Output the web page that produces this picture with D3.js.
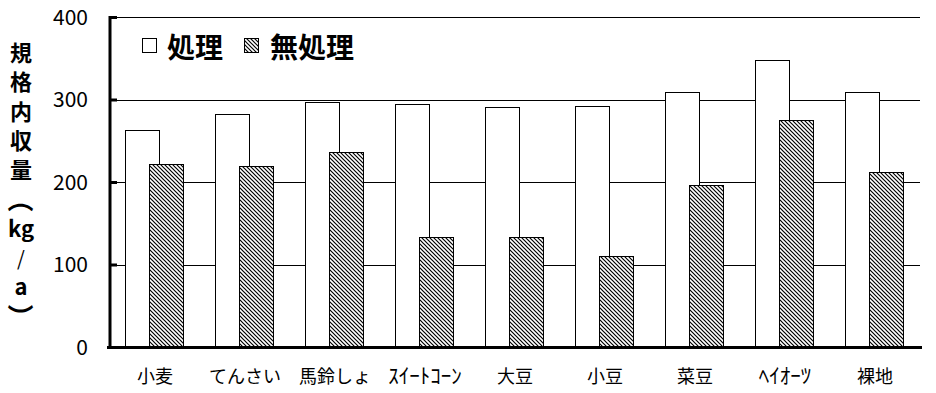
<!DOCTYPE html>
<html>
<head>
<meta charset="utf-8">
<script src="https://cdn.jsdelivr.net/npm/d3@7"></script>
<style>
  body { margin: 0; background: #fff; }
  text { font-family: "Noto Sans CJK JP", sans-serif; fill: #000; }
</style>
</head>
<body>
<div class="graph"></div>
<script>
let crops = ["小麦", "てんさい", "馬鈴しょ", "ｽｲｰﾄｺｰﾝ", "大豆", "小豆", "菜豆", "ﾍｲｵｰﾂ", "裸地"];
let treated = [263, 283, 297, 294, 291, 292, 309, 348, 309];
let untreated = [222, 219, 236, 133, 133, 110, 196, 275, 212];
let yTicks = [0, 100, 200, 300, 400];
let seriesNames = ["処理", "無処理"];
let yTitle = ["規", "格", "内", "収", "量", "（", "kg", "/", "a", "）"];

let w = 936;
let h = 393;
let plotLeft = 110, plotRight = 920, plotTop = 17, plotBottom = 347;

let svg = d3
  .select(".graph")
  .append("svg")
  .attr("width", w)
  .attr("height", h);

let defs = svg.append("defs");
let pat = defs
  .append("pattern")
  .attr("id", "hatch")
  .attr("patternUnits", "userSpaceOnUse")
  .attr("width", 4)
  .attr("height", 4);
pat.append("rect").attr("width", 4).attr("height", 4).attr("fill", "#fff");
pat
  .append("path")
  .attr("d", "M-1,-1 L5,5 M-1,3 L1,5 M3,-1 L5,1")
  .attr("stroke", "#000")
  .attr("stroke-width", 1.2);

let xScale = d3.scaleBand().domain(crops).range([plotLeft, plotRight]).padding(0);
let yScale = d3.scaleLinear().domain([0, 400]).range([plotBottom, plotTop]);

// gridlines
svg
  .selectAll("line.grid")
  .data(yTicks.filter((d) => d > 0))
  .enter()
  .append("line")
  .attr("class", "grid")
  .attr("x1", plotLeft)
  .attr("x2", plotRight)
  .attr("y1", (d) => Math.round(yScale(d)) + 0.5)
  .attr("y2", (d) => Math.round(yScale(d)) + 0.5)
  .attr("stroke", "#000")
  .attr("stroke-width", 1);

// bars
let groups = svg
  .selectAll("g.cat")
  .data(crops)
  .enter()
  .append("g")
  .attr("class", "cat");

groups
  .append("rect")
  .attr("x", (d) => Math.round(xScale(d) + xScale.bandwidth() / 2 - 30) + 0.5)
  .attr("y", (d, i) => Math.round(yScale(treated[i])) + 0.5)
  .attr("width", 34)
  .attr("height", (d, i) => plotBottom - Math.round(yScale(treated[i])))
  .attr("fill", "#fff")
  .attr("stroke", "#000")
  .attr("stroke-width", 1);

groups
  .append("rect")
  .attr("x", (d) => Math.round(xScale(d) + xScale.bandwidth() / 2 - 6) + 0.5)
  .attr("y", (d, i) => Math.round(yScale(untreated[i])) + 0.5)
  .attr("width", 34)
  .attr("height", (d, i) => plotBottom - Math.round(yScale(untreated[i])))
  .attr("fill", "url(#hatch)")
  .attr("stroke", "#000")
  .attr("stroke-width", 1);

// y axis
let yAxis = d3.axisRight(yScale).tickValues(yTicks).tickSize(7).tickFormat("");
let yg = svg.append("g").attr("transform", "translate(" + plotLeft + ",0)").call(yAxis);
yg.select(".domain").remove();
yg.selectAll(".tick line").attr("stroke", "#000").attr("stroke-width", 3);
svg
  .append("line")
  .attr("x1", plotLeft)
  .attr("x2", plotLeft)
  .attr("y1", plotTop - 1)
  .attr("y2", plotBottom + 1)
  .attr("stroke", "#000")
  .attr("stroke-width", 3);

svg
  .selectAll("text.ytick")
  .data(yTicks)
  .enter()
  .append("text")
  .attr("class", "ytick")
  .attr("x", 88)
  .attr("y", (d) => yScale(d) + 7.5)
  .attr("text-anchor", "end")
  .style("font-size", "21px")
  .text((d) => d);

// x axis
svg
  .append("line")
  .attr("x1", 107)
  .attr("x2", 922)
  .attr("y1", plotBottom + 0.5)
  .attr("y2", plotBottom + 0.5)
  .attr("stroke", "#000")
  .attr("stroke-width", 3);

let xAxis = d3.axisBottom(xScale).tickSize(0).tickPadding(0);
let xg = svg.append("g").attr("transform", "translate(0," + (plotBottom + 23) + ")").call(xAxis);
xg.select(".domain").remove();
xg.selectAll(".tick text")
  .attr("dy", (d) => (/[ｦ-ﾟ]/.test(d) ? "0.62em" : "0.71em"))
  .style("font-size", (d) => (/[ｦ-ﾟ]/.test(d) ? "21px" : "18px"))
  .style("font-family", "'Noto Sans CJK JP', sans-serif");

// y title
let titleY = (i) => 61 + i * 29.3;
svg
  .selectAll("text.ytitle")
  .data(yTitle)
  .enter()
  .append("text")
  .attr("class", "ytitle")
  .attr("x", 21)
  .attr("y", (d, i) => (d === "（" || d === "）" ? titleY(i) + 2 : titleY(i)))
  .attr("text-anchor", "middle")
  .attr("transform", (d, i) =>
    d === "（" || d === "）"
      ? "rotate(90,21," + (titleY(i) - 8) + ")"
      : null
  )
  .style("font-size", (d) => (d === "/" ? "20px" : d === "（" || d === "）" ? "26px" : "22px"))
  .style("font-weight", (d) => (d === "/" ? "normal" : "bold"))
  .text((d) => d);

// legend
let legendX = [142, 244];
let legendTextX = [167, 270];
svg
  .selectAll("rect.leg")
  .data(seriesNames)
  .enter()
  .append("rect")
  .attr("class", "leg")
  .attr("x", (d, i) => legendX[i] + 0.5)
  .attr("y", 38.5)
  .attr("width", 14)
  .attr("height", 14)
  .attr("fill", (d, i) => (i === 0 ? "#fff" : "url(#hatch)"))
  .attr("stroke", "#000");

svg
  .selectAll("text.leg")
  .data(seriesNames)
  .enter()
  .append("text")
  .attr("class", "leg")
  .attr("x", (d, i) => legendTextX[i])
  .attr("y", 58)
  .style("font-size", "28px")
  .style("font-weight", "bold")
  .text((d) => d);
</script>
</body>
</html>
